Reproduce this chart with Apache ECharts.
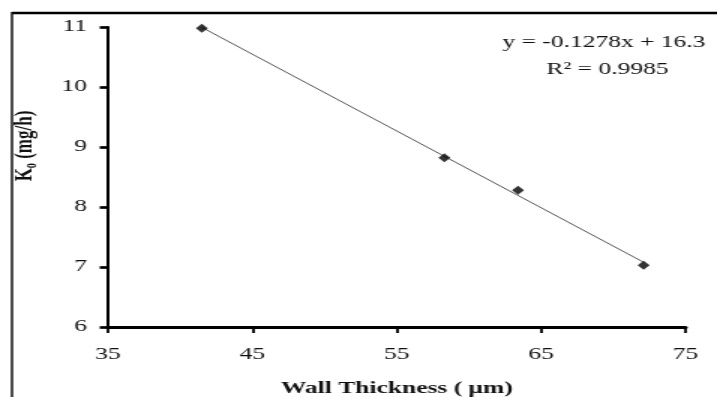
<!DOCTYPE html>
<html>
<head>
<meta charset="utf-8">
<title>Wall Thickness vs K0</title>
<script src="https://cdn.jsdelivr.net/npm/echarts@6/dist/echarts.min.js"></script>
</head>
<body style="margin:0; overflow:hidden;">
	<!-- the source figure is a Word-style chart stretched 1.5x sideways, so the chart is drawn narrow and widened -->
	<div id="main" style="width: 478px; height: 397px; transform: scaleX(1.5); transform-origin: 0 0;"></div>

	<script type="text/javascript">
		// data
		var thickness = [41.5, 58.3, 63.4, 72.1];
		var k0 = [10.98, 8.82, 8.28, 7.03];
		var xTicks = [35, 45, 55, 65, 75];
		var yTicks = [6, 7, 8, 9, 10, 11];
		var equationText = 'y = -0.1278x + 16.3';
		var r2Text = 'R\u00b2 = 0.9985';

		var serif = '"Liberation Serif", "DejaVu Serif", serif';
		var textColor = '#111';

		// least squares fit for the trend line
		var n = thickness.length, sx = 0, sy = 0, sxx = 0, sxy = 0;
		for (var i = 0; i < n; i++) {
			sx += thickness[i]; sy += k0[i];
			sxx += thickness[i] * thickness[i]; sxy += thickness[i] * k0[i];
		}
		var slope = (n * sxy - sx * sy) / (n * sxx - sx * sx);
		var icpt = (sy - slope * sx) / n;
		var xMin = Math.min.apply(null, thickness), xMax = Math.max.apply(null, thickness);
		var trend = [[xMin, slope * xMin + icpt], [xMax, slope * xMax + icpt]];

		var points = thickness.map(function (x, i) { return [x, k0[i]]; });

		var myChart = echarts.init(document.getElementById('main'));

		var option = {
			animation: false,
			backgroundColor: '#fff',
			grid: { left: 72, top: 27, right: 21, bottom: 70, outerBoundsMode: 'none' },
			xAxis: {
				type: 'value',
				min: xTicks[0],
				max: xTicks[xTicks.length - 1],
				interval: xTicks[1] - xTicks[0],
				splitLine: { show: false },
				axisLine: { lineStyle: { color: '#000', width: 3 } },
				axisTick: { length: 6, lineStyle: { color: '#000', width: 1.8 } },
				axisLabel: { color: textColor, fontSize: 17, fontFamily: serif, margin: 19 },
				name: 'Wall Thickness ( \u03bcm)',
				nameLocation: 'middle',
				nameGap: 53,
				nameTextStyle: { color: textColor, fontSize: 17, fontWeight: 'bold', fontFamily: serif }
			},
			yAxis: {
				type: 'value',
				min: yTicks[0],
				max: yTicks[yTicks.length - 1],
				interval: yTicks[1] - yTicks[0],
				splitLine: { show: false },
				axisLine: { lineStyle: { color: '#000', width: 2 } },
				axisTick: { length: 5.5, lineStyle: { color: '#000', width: 2.7 } },
				axisLabel: { color: textColor, fontSize: 17, fontFamily: serif, margin: 14 },
				name: 'K\u2080 (mg/h)',
				nameLocation: 'middle',
				nameGap: 47,
				nameTextStyle: { color: textColor, fontSize: 17, fontWeight: 'bold', fontFamily: serif, padding: [0, 0, 0, 62] }
			},
			graphic: [
				{
					type: 'line',
					shape: { x1: 8, y1: 13, x2: 478, y2: 13 },
					style: { stroke: '#000', lineWidth: 2.7 },
					silent: true
				},
				{
					type: 'line',
					shape: { x1: 8, y1: 12, x2: 8, y2: 397 },
					style: { stroke: '#000', lineWidth: 1.4 },
					silent: true
				},
				{
					type: 'text',
					x: 335, y: 34,
					style: { text: equationText, fill: textColor, fontSize: 17, fontFamily: serif }
				},
				{
					type: 'text',
					x: 405, y: 61,
					style: { text: r2Text, fill: textColor, fontSize: 17, fontFamily: serif, align: 'center' }
				}
			],
			series: [
				{
					name: 'trend',
					type: 'line',
					data: trend,
					showSymbol: false,
					lineStyle: { color: '#555', width: 1 },
					z: 1
				},
				{
					name: 'K0',
					type: 'scatter',
					data: points,
					symbol: 'diamond',
					symbolSize: [8, 9],
					itemStyle: { color: '#000' },
					z: 2
				}
			]
		};

		myChart.setOption(option);
	</script>
</body>
</html>
